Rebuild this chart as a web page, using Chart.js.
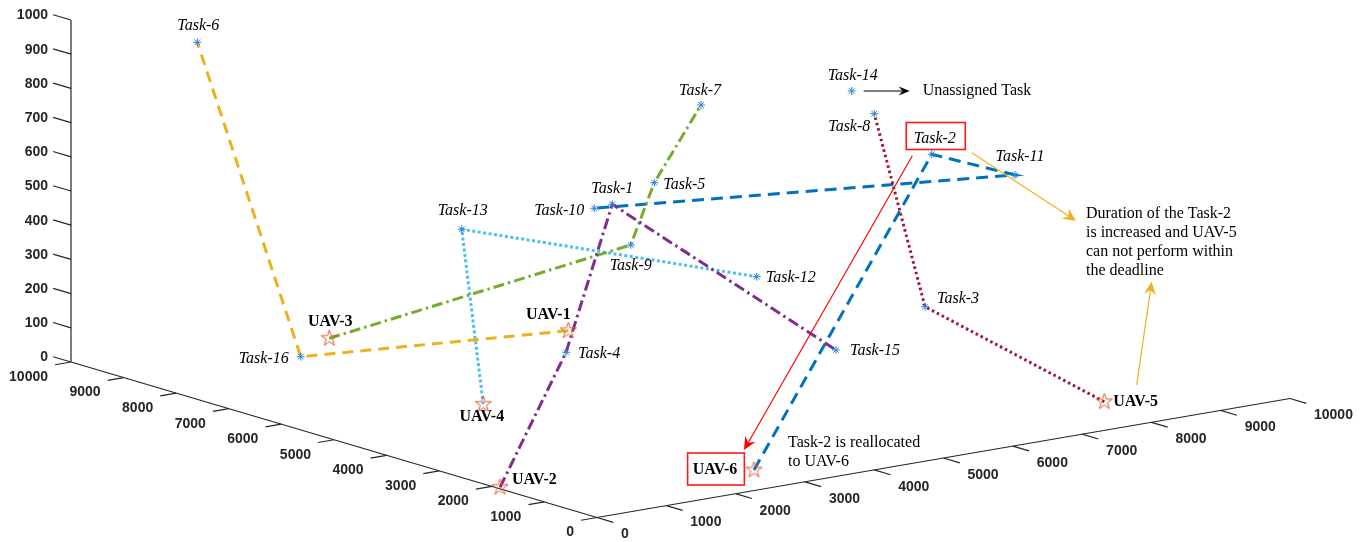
<!DOCTYPE html>
<html>
<head>
<meta charset="utf-8">
<title>UAV task allocation</title>
<script src="https://cdn.jsdelivr.net/npm/chart.js@4.4.1/dist/chart.umd.min.js"></script>
<style>
  html, body { margin: 0; padding: 0; background: #ffffff; }
  #wrap { width: 1365px; height: 542px; }
</style>
</head>
<body>
<div id="wrap"><canvas id="c" width="1365" height="542"></canvas></div>
<script>
// ---- data: positions are (posX, posY, altitude) in metres ----
const uavNames = ['UAV-1', 'UAV-2', 'UAV-3', 'UAV-4', 'UAV-5', 'UAV-6'];
const uavX = [7800, 1906, 9160, 5399, 1167, 836];
const uavY = [5506, 47, 3089, 2457, 8206, 2900];
const uavZ = [0, 0, 0, 0, 0, 0];

const taskNames = ['Task-1', 'Task-2', 'Task-3', 'Task-4', 'Task-5', 'Task-6', 'Task-7', 'Task-8',
                   'Task-9', 'Task-10', 'Task-11', 'Task-12', 'Task-13', 'Task-14', 'Task-15', 'Task-16'];
const taskX = [5678, 3393, 4197, 5545, 5567, 9045, 5619, 4055, 5285, 5641, 2666, 4506, 8495, 4441, 4449, 7915];
const taskY = [4530, 7406, 7919, 3762, 5052, 1098, 5766, 7079, 4498, 4242, 8055, 5725, 4496, 7046, 6825, 1733];
const taskZ = [500, 650, 150, 100, 550, 940, 750, 750, 400, 500, 600, 300, 300, 800, 50, 50];

// task sequence flown by each UAV (task numbers)
const routeUAV1 = [16, 6];
const routeUAV2 = [4, 1, 15];
const routeUAV3 = [9, 5, 7];
const routeUAV4 = [13, 12];
const routeUAV5 = [3, 8];
const routeUAV6 = [2, 11, 10];

// axis ticks
const floorTicks = [0, 1000, 2000, 3000, 4000, 5000, 6000, 7000, 8000, 9000, 10000];
const heightTicks = [0, 100, 200, 300, 400, 500, 600, 700, 800, 900, 1000];
const floorMax = 10000;
const heightMax = 1000;

// ---- orthographic camera for the 3-D view ----
const camera = { ox: 597, oy: 517.5, xx: -0.0526, xy: -0.01555, yx: 0.0693, yy: -0.0119, zy: -0.342 };
function project(px, py, pz) {
  return {
    x: camera.ox + camera.xx * px + camera.yx * py,
    y: camera.oy + camera.xy * px + camera.yy * py + camera.zy * pz
  };
}
const GAP = { x: NaN, y: NaN };

const uavPos = uavNames.map((n, i) => [uavX[i], uavY[i], uavZ[i]]);
const taskPos = taskNames.map((n, i) => [taskX[i], taskY[i], taskZ[i]]);

// ---- axes and tick marks (tick length in data units) ----
const tickLenX = 230, tickLenY = 310, tickLenZ = 340;
function segments(pairs) {
  const out = [];
  pairs.forEach(([p, q]) => { out.push(project(...p), project(...q), GAP); });
  return out;
}
const axisLines = segments([
  [[0, 0, 0], [floorMax, 0, 0]],
  [[0, 0, 0], [0, floorMax, 0]],
  [[floorMax, 0, 0], [floorMax, 0, heightMax]]
]);
const tickMarks = segments([
  ...floorTicks.map(t => [[t, 0, 0], [t, -tickLenX, 0]]),
  ...floorTicks.map(t => [[0, t, 0], [-tickLenY, t, 0]]),
  ...heightTicks.map(t => [[floorMax, 0, t], [floorMax + tickLenZ, 0, t]])
]);

// ---- route styles ----
const routes = [
  { uav: 1, tasks: routeUAV1, color: '#EDB120', dash: [11, 7] },
  { uav: 2, tasks: routeUAV2, color: '#7E2F8E', dash: [11, 4, 2.5, 4] },
  { uav: 3, tasks: routeUAV3, color: '#77AC30', dash: [11, 4, 2.5, 4] },
  { uav: 4, tasks: routeUAV4, color: '#4DBEEE', dash: [3, 2.5] },
  { uav: 5, tasks: routeUAV5, color: '#A2142F', dash: [2.5, 3] },
  { uav: 6, tasks: routeUAV6, color: '#0072BD', dash: [12, 7] }
];

function pentagram(r, color) {
  const s = Math.ceil(r * 2 + 4);
  const c = document.createElement('canvas');
  c.width = s; c.height = s;
  const g = c.getContext('2d');
  g.translate(s / 2, s / 2);
  g.beginPath();
  for (let i = 0; i < 10; i++) {
    const rr = i % 2 ? r * 0.382 : r;
    const ang = -Math.PI / 2 + i * Math.PI / 5;
    g.lineTo(rr * Math.cos(ang), rr * Math.sin(ang));
  }
  g.closePath();
  g.strokeStyle = color;
  g.lineWidth = 1;
  g.stroke();
  return c;
}
const uavMarker = pentagram(8.5, '#E4572E');

const datasets = [];
datasets.push({ data: axisLines, showLine: true, borderColor: '#262626', borderWidth: 1.2, pointRadius: 0, spanGaps: false, order: 10 });
datasets.push({ data: tickMarks, showLine: true, borderColor: '#262626', borderWidth: 1.2, pointRadius: 0, spanGaps: false, order: 10 });
routes.forEach(r => {
  const pts = [project(...uavPos[r.uav - 1]), ...r.tasks.map(t => project(...taskPos[t - 1]))];
  datasets.push({ data: pts, showLine: true, borderColor: r.color, borderWidth: 3, borderDash: r.dash,
                  pointRadius: 0, order: 5 });
});
datasets.push({ data: taskPos.map(p => project(...p)), showLine: false, pointStyle: 'star', pointRadius: 4,
                borderColor: '#2A87D6', borderWidth: 1, backgroundColor: 'transparent', order: 2 });
datasets.push({ data: uavPos.map(p => project(...p)), showLine: false, pointStyle: uavMarker, pointRadius: 8,
                borderColor: '#E4572E', backgroundColor: 'transparent', order: 1 });

// ---- label placement: [align, dx, dy] in pixels from the marker ----
const labelLayout = {
  'Task-1': ['center', 0, -16], 'Task-2': ['center', 3, -16], 'Task-3': ['left', 12, -8],
  'Task-4': ['left', 12, 1], 'Task-5': ['left', 9, 2], 'Task-6': ['center', 1, -17],
  'Task-7': ['center', -1, -14], 'Task-8': ['right', -4, 13], 'Task-9': ['center', 0, 21],
  'Task-10': ['right', -10, 2], 'Task-11': ['center', 5, -18], 'Task-12': ['left', 9, 1],
  'Task-13': ['center', 1, -18.5], 'Task-14': ['center', 1, -15], 'Task-15': ['left', 14, 1],
  'Task-16': ['right', -12, 2],
  'UAV-1': ['center', -20, -16], 'UAV-2': ['left', 12, -7], 'UAV-3': ['center', 1, -16],
  'UAV-4': ['center', -1.5, 13], 'UAV-5': ['left', 9, 0], 'UAV-6': ['center', -39, 0]
};
const boxedLabels = { 'Task-2': { padX: 8.5, h: 27, dx: 1, dy: -2.3 }, 'UAV-6': { padX: 6, h: 32, dx: 1, dy: -1 } };

const FONT_TASK = 'italic 16px "Liberation Serif", "Times New Roman", serif';
const FONT_UAV = 'bold 16px "Liberation Serif", "Times New Roman", serif';
const FONT_NOTE = '16px "Liberation Serif", "Times New Roman", serif';
const FONT_TICK = 'bold 14px "Liberation Sans", Arial, sans-serif';

function drawArrow(ctx, x0, y0, x1, y1, color, headLen, headHalf) {
  const ang = Math.atan2(y1 - y0, x1 - x0);
  const cos = Math.cos(ang), sin = Math.sin(ang);
  ctx.strokeStyle = color; ctx.fillStyle = color; ctx.lineWidth = 1.2;
  ctx.beginPath(); ctx.moveTo(x0, y0); ctx.lineTo(x1 - cos * headLen * 0.6, y1 - sin * headLen * 0.6); ctx.stroke();
  const bx = x1 - cos * headLen, by = y1 - sin * headLen;
  const nx = x1 - cos * headLen * 0.65, ny = y1 - sin * headLen * 0.65;
  ctx.beginPath();
  ctx.moveTo(x1, y1);
  ctx.lineTo(bx - sin * headHalf, by + cos * headHalf);
  ctx.lineTo(nx, ny);
  ctx.lineTo(bx + sin * headHalf, by - cos * headHalf);
  ctx.closePath();
  ctx.fill();
}

const annotate = {
  id: 'annotate',
  afterDatasetsDraw(chart) {
    const ctx = chart.ctx;
    const sx = chart.scales.x, sy = chart.scales.y;
    const toPx = (p) => { const v = project(...p); return { x: sx.getPixelForValue(v.x), y: sy.getPixelForValue(v.y) }; };
    ctx.save();

    // tick labels
    ctx.font = FONT_TICK; ctx.fillStyle = '#262626'; ctx.textBaseline = 'middle';
    ctx.textAlign = 'right';
    floorTicks.forEach(t => { const p = toPx([t, 0, 0]); ctx.fillText(String(t), p.x - 23, p.y + 15); });
    ctx.textAlign = 'left';
    floorTicks.forEach(t => { const p = toPx([0, t, 0]); ctx.fillText(String(t), p.x + 24, p.y + 17); });
    ctx.textAlign = 'right';
    heightTicks.forEach(t => { const p = toPx([floorMax, 0, t]); ctx.fillText(String(t), p.x - 23, p.y - 4.5); });

    // point names
    const marks = {};
    taskNames.forEach((n, i) => { marks[n] = toPx(taskPos[i]); });
    uavNames.forEach((n, i) => { marks[n] = toPx(uavPos[i]); });
    ctx.fillStyle = '#000000';
    Object.keys(marks).forEach(name => {
      const [align, dx, dy] = labelLayout[name];
      const p = marks[name];
      ctx.font = name.startsWith('UAV') ? FONT_UAV : FONT_TASK;
      ctx.textAlign = align;
      const lx = p.x + dx, ly = p.y + dy;
      ctx.fillText(name, lx, ly);
      const box = boxedLabels[name];
      if (box) {
        const w = ctx.measureText(name).width;
        const cx = (align === 'center' ? lx : align === 'left' ? lx + w / 2 : lx - w / 2) + box.dx;
        ctx.strokeStyle = '#FF1A1A'; ctx.lineWidth = 1.6;
        ctx.strokeRect(cx - w / 2 - box.padX, ly + box.dy - box.h / 2, w + 2 * box.padX, box.h);
      }
    });

    // unassigned task note
    const t14 = marks['Task-14'];
    drawArrow(ctx, t14.x + 12, t14.y, t14.x + 58, t14.y, '#000000', 11, 4.5);
    ctx.font = FONT_NOTE; ctx.fillStyle = '#000000'; ctx.textAlign = 'left';
    ctx.fillText('Unassigned Task', t14.x + 71, t14.y);

    // reallocation of Task-2 to UAV-6
    const t2 = marks['Task-2'], u6 = marks['UAV-6'], u5 = marks['UAV-5'];
    drawArrow(ctx, t2.x - 19.4, t2.y + 1.4, u6.x - 10, u6.y - 20, '#FF0000', 13, 6);
    ctx.fillStyle = '#000000';
    ctx.fillText('Task-2 is reallocated', u6.x + 34, u6.y - 26.7);
    ctx.fillText('to UAV-6', u6.x + 34, u6.y - 8.3);

    // deadline note
    drawArrow(ctx, t2.x + 40, t2.y - 1.6, t2.x + 144.3, t2.y + 66.4, '#EDB120', 13, 6);
    drawArrow(ctx, u5.x + 32.4, u5.y - 16.7, u5.x + 47.4, u5.y - 120, '#EDB120', 13, 6);
    ctx.fillStyle = '#000000';
    const noteLines = ['Duration of the Task-2', 'is increased and UAV-5', 'can not perform within', 'the deadline'];
    noteLines.forEach((s, i) => ctx.fillText(s, u5.x - 18.3, u5.y - 188.4 + i * 19));

    ctx.restore();
  }
};

new Chart(document.getElementById('c'), {
  type: 'scatter',
  data: { datasets },
  options: {
    responsive: false,
    maintainAspectRatio: false,
    devicePixelRatio: 1,
    animation: false,
    events: [],
    layout: { padding: 0, autoPadding: false },
    scales: {
      x: { type: 'linear', min: 0, max: 1365, display: false },
      y: { type: 'linear', min: 0, max: 542, reverse: true, display: false }
    },
    plugins: { legend: { display: false }, tooltip: { enabled: false } },
    elements: { line: { tension: 0 } }
  },
  plugins: [annotate]
});
</script>
</body>
</html>
